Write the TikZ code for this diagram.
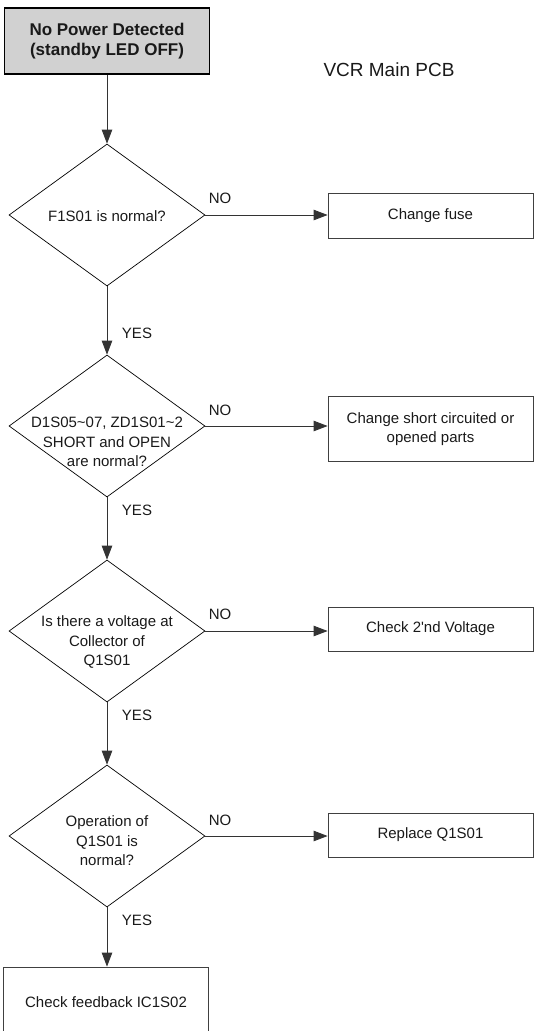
\documentclass[tikz,border=0pt]{standalone}
\usepackage{fontspec}
\setmainfont{Liberation Sans}
\usetikzlibrary{shapes.geometric,arrows.meta}
\begin{document}
\begin{tikzpicture}[x=1pt,y=-1pt,
  every node/.style={font=\fontsize{15}{19.5}\selectfont, text=black!90, inner sep=0pt},
  decision/.style={diamond, draw=black, line width=0.7pt, minimum width=196pt, minimum height=142pt, inner sep=0pt},
  actbox/.style={rectangle, draw=black!75, line width=0.8pt, minimum width=205pt, align=center},
  startbox/.style={rectangle, draw=black, line width=1.8pt, fill=black!18, minimum width=205pt, minimum height=66pt, align=center, font=\fontsize{17}{19.5}\selectfont\bfseries},
  flow/.style={draw=black!80, line width=0.8pt, -{Triangle[length=14pt,width=10.5pt]}},
  lbl/.style={font=\fontsize{15}{18}\selectfont}
]
\useasboundingbox (0,0) rectangle (535,1031);

\node[startbox] (start) at (107,41) {No Power Detected\\(standby LED OFF)};
\node[font=\fontsize{19}{22}\selectfont] (pcb) at (389,70) {VCR Main PCB};

\node[decision] (d1) at (107,215) {};
\node (t1) at (107,216) {F1S01 is normal?};
\node[actbox, minimum height=45pt] (b1) at (430.5,215.5) {Change fuse};

\node[decision] (d2) at (107,426) {};
\node[align=center] (t2) at (107,442) {D1S05\textasciitilde 07, ZD1S01\textasciitilde 2\\SHORT and OPEN\\are normal?};
\node[actbox, minimum height=65pt] (b2) at (430.5,429) {Change short circuited or\\opened parts};

\node[decision] (d3) at (107,631) {};
\node[align=center] (t3) at (107,642) {Is there a voltage at\\Collector of\\Q1S01};
\node[actbox, minimum height=44pt] (b3) at (430.5,629) {Check 2\textquotesingle nd Voltage};

\node[decision] (d4) at (107,836) {};
\node[align=center] (t4) at (107,841) {Operation of\\Q1S01 is\\normal?};
\node[actbox, minimum height=44pt] (b4) at (430.5,835) {Replace Q1S01};

\node[rectangle, draw=black!75, line width=0.8pt, minimum width=205pt, minimum height=70pt] (fin) at (106,1002) {Check feedback IC1S02};

\draw[flow] (start.south) -- (d1.north);
\draw[flow] (d1.south) -- (d2.north);
\draw[flow] (d2.south) -- (d3.north);
\draw[flow] (d3.south) -- (d4.north);
\draw[flow] (d4.south) -- (d4.south |- fin.north);

\draw[flow] (d1.east) -- (d1.east -| b1.west);
\draw[flow] (d2.east) -- (d2.east -| b2.west);
\draw[flow] (d3.east) -- (d3.east -| b3.west);
\draw[flow] (d4.east) -- (d4.east -| b4.west);

\node[lbl] (no1) at (220,198) {NO};
\node[lbl] (no2) at (220,410) {NO};
\node[lbl] (no3) at (220,614) {NO};
\node[lbl] (no4) at (220,820) {NO};
\node[lbl] (yes1) at (137,333) {YES};
\node[lbl] (yes2) at (137,510) {YES};
\node[lbl] (yes3) at (137,715) {YES};
\node[lbl] (yes4) at (137,920) {YES};
\end{tikzpicture}
\end{document}
